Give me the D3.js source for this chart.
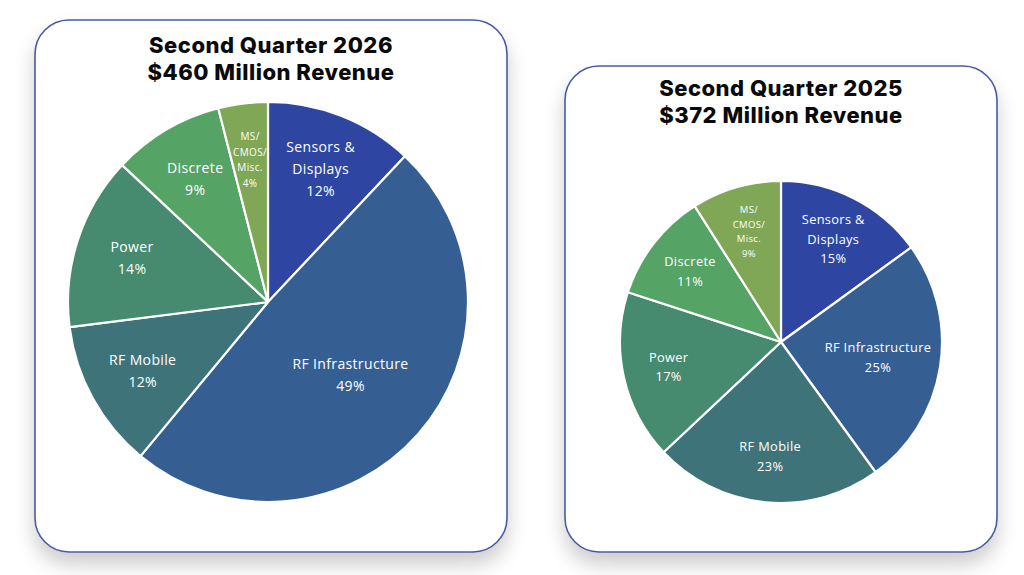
<!DOCTYPE html>
<html>
<head>
<meta charset="utf-8">
<script src="https://cdn.jsdelivr.net/npm/d3@7"></script>
<style>
  html, body { margin: 0; padding: 0; background: #ffffff; }
  svg { display: block; }
</style>
</head>
<body>
<svg id="chart" width="1024" height="575"></svg>
<script>
// ---- data ----
const categories = ["Sensors & Displays", "RF Infrastructure", "RF Mobile", "Power", "Discrete", "MS/CMOS/Misc."];
const labelLines = [["Sensors &", "Displays"], ["RF Infrastructure"], ["RF Mobile"], ["Power"], ["Discrete"], ["MS/", "CMOS/", "Misc."]];
const values2026 = [12, 49, 12, 14, 9, 4];
const values2025 = [15, 25, 23, 17, 11, 9];
const titles2026 = ["Second Quarter 2026", "$460 Million Revenue"];
const titles2025 = ["Second Quarter 2025", "$372 Million Revenue"];
const colors = ["#2e46a2", "#355f92", "#3e7479", "#468a6f", "#55a465", "#7fa756"];

const svg = d3.select("#chart");
const defs = svg.append("defs");
const filt = defs.append("filter").attr("id", "shadow")
  .attr("x", "-20%").attr("y", "-20%").attr("width", "140%").attr("height", "140%");
filt.append("feGaussianBlur").attr("in", "SourceAlpha").attr("stdDeviation", 10).attr("result", "blur");
filt.append("feOffset").attr("in", "blur").attr("dx", 0).attr("dy", 12).attr("result", "off");
filt.append("feComponentTransfer").attr("in", "off").attr("result", "sh")
  .append("feFuncA").attr("type", "linear").attr("slope", 0.2);
const fm = filt.append("feMerge");
fm.append("feMergeNode").attr("in", "sh");
fm.append("feMergeNode").attr("in", "SourceGraphic");

const colorScale = d3.scaleOrdinal().domain(categories).range(colors);

function panel(cfg) {
  const g = svg.append("g");
  g.append("rect")
    .attr("x", cfg.x).attr("y", cfg.y).attr("width", cfg.w).attr("height", cfg.h)
    .attr("rx", 34).attr("ry", 34)
    .attr("fill", "#ffffff").attr("stroke", "#4a59a3").attr("stroke-width", 1.6)
    .attr("filter", "url(#shadow)");

  g.selectAll("text.title").data(cfg.titles).join("text")
    .attr("class", "title")
    .attr("x", cfg.x + cfg.w / 2)
    .attr("y", (d, i) => cfg.titleY + i * 27)
    .attr("text-anchor", "middle")
    .attr("font-family", "Inter, 'Noto Sans', sans-serif")
    .attr("font-weight", 800)
    .attr("font-size", 22)
    .attr("letter-spacing", 0.5)
    .attr("fill", "#0a0a0a")
    .text(d => d);

  const data = categories.map((c, i) => ({ cat: c, lines: labelLines[i], value: cfg.values[i] }));
  const pie = d3.pie().sort(null).value(d => d.value);
  const arcs = pie(data);
  const arc = d3.arc().innerRadius(0).outerRadius(cfg.r);
  const maxV = d3.max(cfg.values);

  const pg = g.append("g").attr("transform", `translate(${cfg.cx},${cfg.cy})`);
  pg.selectAll("path").data(arcs).join("path")
    .attr("d", arc)
    .attr("fill", d => colorScale(d.data.cat))
    .attr("stroke", "#ffffff")
    .attr("stroke-width", 2.2)
    .attr("stroke-linejoin", "round");

  arcs.forEach(a => {
    const small = a.data.value < 10 && a.data.lines.length > 2;
    const lr = cfg.r * (a.data.value === maxV ? cfg.bigLabelFrac : 0.715);
    const [lx, ly] = d3.arc().innerRadius(lr).outerRadius(lr).centroid(a);
    const lines = a.data.lines.concat([a.data.value + "%"]);
    const fs = small ? cfg.smallFont : cfg.font;
    const lh = small ? cfg.smallLH : cfg.lh;
    const t = pg.append("text")
      .attr("text-anchor", "middle")
      .attr("font-family", "'Open Sans', Lato, sans-serif")
      .attr("font-weight", 400)
      .attr("font-size", fs)
      .attr("letter-spacing", 0.35)
      .attr("fill", "#ffffff");
    const y0 = ly - (lines.length - 1) * lh / 2 + fs * 0.35;
    lines.forEach((ln, i) => {
      t.append("tspan").attr("x", lx).attr("y", y0 + i * lh).text(ln);
    });
  });
}

panel({ x: 35, y: 20, w: 472, h: 532, titles: titles2026, titleY: 53,
        cx: 268, cy: 302, r: 200, values: values2026, bigLabelFrac: 0.55,
        font: 14, lh: 22, smallFont: 10, smallLH: 15.5 });
panel({ x: 565, y: 66, w: 432, h: 486, titles: titles2025, titleY: 96,
        cx: 781, cy: 342, r: 161, values: values2025, bigLabelFrac: 0.61,
        font: 12.8, lh: 19.5, smallFont: 9.5, smallLH: 14.5 });
</script>
</body>
</html>
